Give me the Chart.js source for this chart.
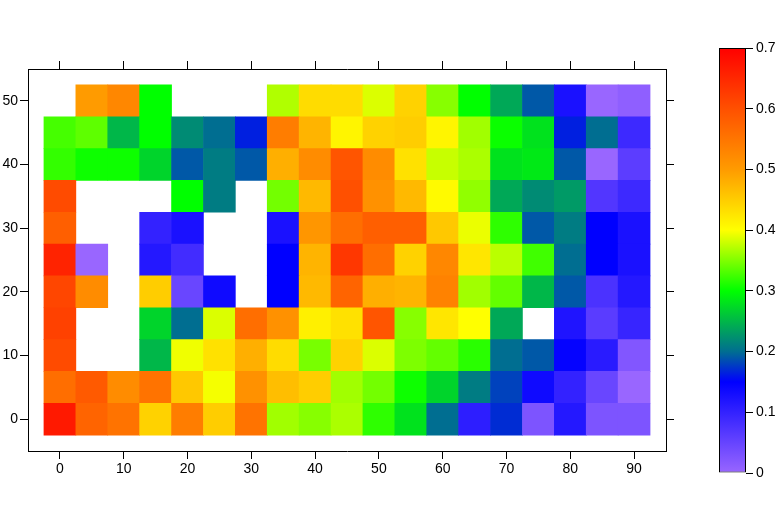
<!DOCTYPE html>
<html>
<head>
<meta charset="utf-8">
<script src="https://cdn.jsdelivr.net/npm/chart.js@4.4.1/dist/chart.umd.min.js"></script>
<style>
  body { margin: 0; background: #fff; }
  #wrap { position: relative; width: 780px; height: 520px; }
  canvas { position: absolute; top: 0; }
  #heat { left: 0; }
  #cbar { left: 700px; }
</style>
</head>
<body>
<div id="wrap">
  <canvas id="heat" width="780" height="520"></canvas>
  <canvas id="cbar" width="80" height="520"></canvas>
</div>
<script>
// grid positions
const xValues = [0, 5, 10, 15, 20, 25, 30, 35, 40, 45, 50, 55, 60, 65, 70, 75, 80, 85, 90];
const yValues = [0, 5, 10, 15, 20, 25, 30, 35, 40, 45, 50];

// cell values, one list per row (null = no data)
const row0  = [0.669, 0.573, 0.553, 0.445, 0.54, 0.45, 0.553, 0.363, 0.353, 0.367, 0.318, 0.28, 0.20, 0.106, 0.17, 0.027, 0.115, 0.027, 0.027];
const row5  = [0.56, 0.587, 0.52, 0.553, 0.455, 0.396, 0.513, 0.465, 0.45, 0.363, 0.345, 0.305, 0.27, 0.21, 0.18, 0.135, 0.10, 0.047, 0.0];
const row10 = [0.606, null, null, 0.25, 0.394, 0.43, 0.48, 0.435, 0.347, 0.445, 0.386, 0.349, 0.339, 0.316, 0.20, 0.19, 0.145, 0.11, 0.023];
const row15 = [0.619, null, null, 0.27, 0.20, 0.386, 0.56, 0.513, 0.415, 0.43, 0.593, 0.353, 0.425, 0.40, 0.24, null, 0.12, 0.062, 0.096];
const row20 = [0.613, 0.52, null, 0.45, 0.047, 0.135, null, 0.15, 0.47, 0.573, 0.48, 0.475, 0.533, 0.363, 0.339, 0.25, 0.19, 0.076, 0.115];
const row25 = [0.656, 0.0, null, 0.115, 0.085, null, null, 0.15, 0.475, 0.631, 0.56, 0.445, 0.527, 0.425, 0.373, 0.325, 0.20, 0.15, 0.125];
const row30 = [0.58, null, null, 0.10, 0.125, null, null, 0.125, 0.507, 0.56, 0.58, 0.58, 0.455, 0.392, 0.318, 0.19, 0.21, 0.15, 0.125];
const row35 = [0.606, null, null, null, 0.30, 0.21, null, 0.345, 0.47, 0.60, 0.513, 0.47, 0.405, 0.357, 0.24, 0.22, 0.23, 0.07, 0.09];
const row40 = [0.32, 0.305, 0.305, 0.27, 0.19, 0.21, 0.19, 0.48, 0.52, 0.593, 0.52, 0.43, 0.378, 0.367, 0.28, 0.285, 0.19, 0.0, 0.06];
const row45 = [0.327, 0.337, 0.25, 0.30, 0.22, 0.20, 0.164, 0.54, 0.475, 0.41, 0.445, 0.45, 0.41, 0.363, 0.304, 0.28, 0.164, 0.20, 0.09];
const row50 = [null, 0.50, 0.527, 0.30, null, null, null, 0.369, 0.435, 0.435, 0.386, 0.445, 0.353, 0.30, 0.24, 0.19, 0.125, 0.0, 0.01];

const xTicks = [0, 10, 20, 30, 40, 50, 60, 70, 80, 90];
const yTicks = [0, 10, 20, 30, 40, 50];
const cbarTicks = [0, 0.1, 0.2, 0.3, 0.4, 0.5, 0.6, 0.7];

// colour map
const cmapStops  = [0, 0.15, 0.2, 0.3, 0.4, 0.5, 0.6, 0.7];
const cmapColors = ['#9966ff', '#0000ff', '#006e91', '#00ff00', '#ffff00', '#ff9b00', '#ff5000', '#ff0000'];

function hexToRgb(h) {
    return [1, 3, 5].map(i => parseInt(h.substr(i, 2), 16));
}

function colorFor(v) {
    let i = 0;
    while (i < cmapStops.length - 2 && v > cmapStops[i + 1]) i++;
    let t = (v - cmapStops[i]) / (cmapStops[i + 1] - cmapStops[i]);
    t = Math.max(0, Math.min(1, t));
    const a = hexToRgb(cmapColors[i]), b = hexToRgb(cmapColors[i + 1]);
    const c = a.map((ch, k) => Math.round(ch + (b[k] - ch) * t));
    return `rgb(${c[0]}, ${c[1]}, ${c[2]})`;
}

const rows = [row0, row5, row10, row15, row20, row25, row30, row35, row40, row45, row50];
const half = (yValues[1] - yValues[0]) / 2;

// one floating-bar dataset per row
const datasets = rows.map((row, j) => {
    let data = [], colors = [];
    row.forEach((v, i) => {
        if (v === null) return;
        data.push({ x: xValues[i], y: [yValues[j] - half, yValues[j] + half] });
        colors.push(colorFor(v));
    });
    return {
        data: data,
        backgroundColor: colors,
        borderWidth: 0,
        grouped: false,
        barPercentage: 1,
        categoryPercentage: 1
    };
});

const tickFont = { family: "'Liberation Sans', Arial, sans-serif", size: 14 };

function frameAxis(pos, ticks, min, max, labels, size) {
    return {
        type: 'linear',
        position: pos,
        min: min,
        max: max,
        offset: false,
        afterBuildTicks: s => { s.ticks = ticks.map(v => ({ value: v })); },
        afterFit: s => {
            if (s.isHorizontal()) s.height = size;
            else s.width = size;
        },
        grid: { drawOnChartArea: false, drawTicks: true, tickLength: 8, color: '#000', lineWidth: 1, offset: false },
        border: { display: true, color: '#000', width: 1 },
        ticks: { display: labels, font: tickFont, color: '#000', padding: 2, autoSkip: false, maxRotation: 0 }
    };
}

new Chart(document.getElementById('heat'), {
    type: 'bar',
    data: { datasets: datasets },
    options: {
        responsive: false,
        animation: false,
        layout: { padding: 0 },
        plugins: { legend: { display: false }, tooltip: { enabled: false } },
        scales: {
            x: frameAxis('bottom', xTicks, -5, 95, true, 69),
            x2: frameAxis('top', xTicks, -5, 95, false, 69),
            y: frameAxis('left', yTicks, -5, 55, true, 28),
            y2: frameAxis('right', yTicks, -5, 55, false, 114)
        }
    }
});

// colour bar
new Chart(document.getElementById('cbar'), {
    type: 'bar',
    data: {
        labels: [''],
        datasets: [{
            data: [[cbarTicks[0], cbarTicks[cbarTicks.length - 1]]],
            backgroundColor: ctx => {
                const chart = ctx.chart;
                const ys = chart.scales.y;
                if (!chart.chartArea || !ys) return cmapColors[0];
                const lo = cbarTicks[0], hi = cbarTicks[cbarTicks.length - 1];
                const p0 = ys.getPixelForValue(lo), p1 = ys.getPixelForValue(hi);
                if (!isFinite(p0) || !isFinite(p1)) return cmapColors[0];
                const g = chart.ctx.createLinearGradient(0, p0, 0, p1);
                cmapStops.forEach((s, i) => g.addColorStop((s - lo) / (hi - lo), cmapColors[i]));
                return g;
            },
            borderColor: '#000',
            borderWidth: 1,
            borderSkipped: false,
            inflateAmount: 0,
            barPercentage: 1,
            categoryPercentage: 1
        }]
    },
    options: {
        responsive: false,
        animation: false,
        layout: { padding: { left: 19, top: 48, bottom: 47, right: 0 } },
        plugins: { legend: { display: false }, tooltip: { enabled: false } },
        scales: {
            x: { display: false },
            y: {
                position: 'right',
                min: 0,
                max: 0.7,
                afterBuildTicks: s => { s.ticks = cbarTicks.map(v => ({ value: v })); },
                afterFit: s => { s.width = 34; },
                grid: { drawOnChartArea: false, drawTicks: true, tickLength: 7, color: '#000' },
                border: { display: false },
                ticks: { font: tickFont, color: '#000', padding: 3, callback: v => String(v) }
            }
        }
    }
});
</script>
</body>
</html>
